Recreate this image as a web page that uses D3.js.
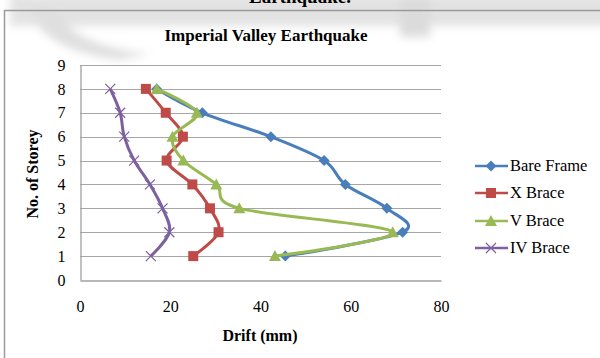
<!DOCTYPE html>
<html>
<head>
<meta charset="utf-8">
<script src="https://cdn.jsdelivr.net/npm/d3@7"></script>
<style>
  html, body { margin: 0; padding: 0; background: #fff; }
  svg { display: block; }
  text { font-family: "Liberation Serif", "Times New Roman", serif; fill: #000; }
</style>
</head>
<body>
<svg id="chart" width="600" height="358"></svg>
<script>
// Storey numbers and peak drift (mm) for each bracing scheme
const storeys = [1, 2, 3, 4, 5, 6, 7, 8];
const bareFrame = [45.5, 71.5, 68.0, 58.8, 54.1, 42.3, 27.1, 17.0];
const xBrace    = [25.1, 30.7, 28.8, 24.9, 19.2, 22.8, 19.0, 14.6];
const vBrace    = [43.2, 69.3, 35.3, 30.2, 22.9, 20.5, 25.9, 17.0];
const ivBrace   = [15.7, 19.8, 18.3, 15.5, 12.0, 9.8, 8.9, 6.7];
const seriesNames = ["Bare Frame", "X Brace", "V Brace", "IV Brace"];
const xTicks = [0, 20, 40, 60, 80];
const yTicks = [0, 1, 2, 3, 4, 5, 6, 7, 8, 9];

const colors = ["#4a7ebb", "#be4b48", "#98b954", "#7d60a0"];
const markerTypes = ["diamond", "square", "triangle", "cross"];
const allSeries = [bareFrame, xBrace, vBrace, ivBrace].map((vals, i) => ({
  name: seriesNames[i],
  color: colors[i],
  marker: markerTypes[i],
  points: storeys.map((s, j) => ({ storey: s, drift: vals[j] }))
}));

const svg = d3.select("#chart");
const FS = 16;

// Faint grey smudge across the top of the page
const defs = svg.append("defs");
defs.append("filter").attr("id", "soft")
  .attr("x", "-20%").attr("y", "-50%").attr("width", "140%").attr("height", "200%")
  .append("feGaussianBlur").attr("stdDeviation", 4);
const haze = svg.append("g").attr("filter", "url(#soft)").attr("opacity", 0.6);
haze.append("rect").attr("x", 10).attr("y", -6).attr("width", 600).attr("height", 32).attr("fill", "#d0d0d0");
haze.append("path").attr("d", "M30,8 Q40,50 120,60 L150,54 Q70,45 55,8 Z").attr("fill", "#cacaca");
haze.append("rect").attr("x", 400).attr("y", -5).attr("width", 30).attr("height", 42).attr("fill", "#c4c4c4");

// Caption line from the surrounding page, clipped at the top edge
svg.append("text").attr("x", 300).attr("y", 3).attr("text-anchor", "middle")
  .attr("font-size", 19).attr("font-weight", "bold").text("Earthquake.");

// Chart outer border
svg.append("path").attr("d", "M4.5,358 L4.5,10.5 L600,10.5")
  .attr("fill", "none").attr("stroke", "#9a9a9a").attr("stroke-width", 1.5);

const plot = { left: 80, right: 441, top: 65, bottom: 280 };
const x = d3.scaleLinear().domain([0, 80]).range([plot.left, plot.right]);
const y = d3.scaleLinear().domain([0, 9]).range([plot.bottom, plot.top]);

// Horizontal gridlines
svg.append("g").selectAll("line").data(yTicks.filter(d => d > 0)).join("line")
  .attr("x1", plot.left).attr("x2", plot.right)
  .attr("y1", d => Math.round(y(d)) + 0.5).attr("y2", d => Math.round(y(d)) + 0.5)
  .attr("stroke", "#a6a6a6").attr("stroke-width", 1.2);

// Axes: plain axis lines, labels without tick marks
const yAxis = svg.append("g").attr("transform", `translate(${plot.left + 0.5},0)`)
  .call(d3.axisLeft(y).tickValues(yTicks).tickSize(0).tickPadding(15).tickFormat(d3.format("d")));
const xAxis = svg.append("g").attr("transform", `translate(0,${Math.round(y(0)) + 0.5})`)
  .call(d3.axisBottom(x).tickValues(xTicks).tickSize(0).tickPadding(20));
[yAxis, xAxis].forEach(a => {
  a.attr("font-size", FS).attr("font-family", "Liberation Serif, serif");
  a.select(".domain").attr("stroke", "#a0a0a0").attr("stroke-width", 1.3);
  a.selectAll("text").attr("fill", "#000");
});

// Title and axis titles
svg.append("text").attr("x", 266).attr("y", 41).attr("text-anchor", "middle")
  .attr("font-size", 17).attr("font-weight", "bold").text("Imperial Valley Earthquake");
svg.append("text").attr("x", 260).attr("y", 341).attr("text-anchor", "middle")
  .attr("font-size", FS).attr("font-weight", "bold").text("Drift (mm)");
svg.append("text").attr("transform", "translate(38,174) rotate(-90)").attr("text-anchor", "middle")
  .attr("font-size", FS).attr("font-weight", "bold").text("No. of Storey");

// Marker glyphs
function drawMarker(g, type, color, cx, cy) {
  if (type === "diamond") {
    g.append("path").attr("d", `M${cx},${cy - 5.5} L${cx + 5.5},${cy} L${cx},${cy + 5.5} L${cx - 5.5},${cy} Z`)
      .attr("fill", color);
  } else if (type === "square") {
    g.append("rect").attr("x", cx - 5).attr("y", cy - 5).attr("width", 10).attr("height", 10).attr("fill", color);
  } else if (type === "triangle") {
    g.append("path").attr("d", `M${cx},${cy - 6} L${cx + 6},${cy + 5} L${cx - 6},${cy + 5} Z`).attr("fill", color);
  } else {
    g.append("path").attr("d", `M${cx - 5},${cy - 5} L${cx + 5},${cy + 5} M${cx - 5},${cy + 5} L${cx + 5},${cy - 5}`)
      .attr("stroke", color).attr("stroke-width", 1.2).attr("fill", "none");
  }
}

// Smoothed series lines with markers
const line = d3.line().x(d => x(d.drift)).y(d => y(d.storey)).curve(d3.curveCatmullRom.alpha(0));
allSeries.forEach(s => {
  const g = svg.append("g");
  g.append("path").datum(s.points).attr("d", line)
    .attr("fill", "none").attr("stroke", s.color).attr("stroke-width", 3).attr("stroke-linejoin", "round");
  s.points.forEach(p => drawMarker(g, s.marker, s.color, x(p.drift), y(p.storey)));
});

// Legend
const legendY = [166, 193, 221, 248];
allSeries.forEach((s, i) => {
  const g = svg.append("g");
  const ly = legendY[i];
  g.append("line").attr("x1", 475).attr("x2", 508).attr("y1", ly).attr("y2", ly)
    .attr("stroke", s.color).attr("stroke-width", 2.5);
  drawMarker(g, s.marker, s.color, 491, ly);
  g.append("text").attr("x", 510).attr("y", ly + 5).attr("font-size", 16.5).text(s.name);
});
</script>
</body>
</html>
